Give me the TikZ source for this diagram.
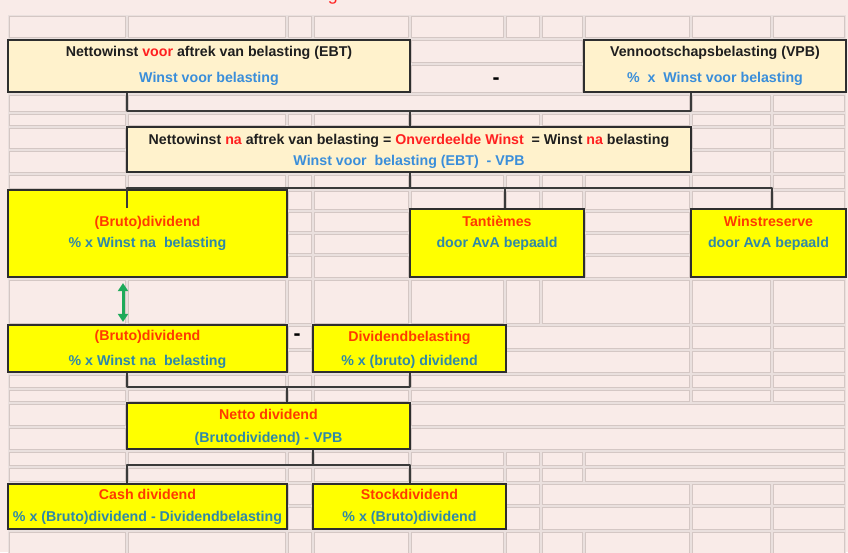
\documentclass[tikz,border=0pt]{standalone}
\usepackage{fontspec}
\setmainfont{Liberation Sans}
\usetikzlibrary{arrows.meta,calc}
\definecolor{bg}{HTML}{F9EBE8}
\definecolor{gapc}{HTML}{EAE0DE}
\definecolor{cellline}{HTML}{D4C7C4}
\definecolor{creamfill}{HTML}{FFF2CC}
\definecolor{yellowfill}{HTML}{FFFF00}
\definecolor{edgec}{HTML}{2E2E2E}
\definecolor{connc}{HTML}{3A3A3A}
\definecolor{txtdark}{HTML}{1F1F1F}
\definecolor{txtblue}{HTML}{3A8EDA}
\definecolor{txtteal}{HTML}{2F88A8}
\definecolor{txtred}{HTML}{FF2020}
\definecolor{txtorange}{HTML}{FF3A00}
\definecolor{arrowgreen}{HTML}{1DAA5A}
\newcommand{\gridrow}[3]{%
  \foreach \cx [remember=\cx as \px (initially 0)] in {#3}{%
    \ifnum\px>0\relax
      \draw[cellst] (\px+1.5,#1+1.5) rectangle (\cx-1.5,#2-1.5);
    \fi}}
\tikzset{
  cellst/.style={draw=cellline, fill=bg, line width=0.9pt},
  creambox/.style={draw=edgec, fill=creamfill, line width=2.2pt, inner sep=0pt},
  yellowbox/.style={draw=edgec, fill=yellowfill, line width=2.2pt, inner sep=0pt},
  conn/.style={draw=connc, line width=2.5pt, line join=round},
  garrow/.style={draw=arrowgreen, line width=3pt, {Triangle[width=10pt,length=8pt]}-{Triangle[width=10pt,length=8pt]}},
  lbl/.style={font=\bfseries\fontsize{14.2}{16}\selectfont, inner sep=0pt, text height=9pt, text depth=0pt},
  minusst/.style={font=\bfseries\fontsize{21}{22}\selectfont, inner sep=0pt, text=black},
}
\begin{document}
\begin{tikzpicture}[x=1pt,y=-1pt]
\useasboundingbox (0,0) rectangle (848,552);
\clip (0,0) rectangle (848,552);
\fill[bg] (0,0) rectangle (848,552);
% title fragment (cut off at the top edge, as in the reference)
\node[anchor=base, inner sep=0pt, text=txtred, font=\fontsize{18}{20}\selectfont] (title) at (333,0) {g};
% spreadsheet grid
\fill[gapc] (8,15) rectangle (846,556);
\gridrow{15}{38.5}{8,127,287,313,410,505,541,584,691,772,846}
\gridrow{38.5}{63.5}{8,127,287,313,410,584,691,772,846}
\gridrow{63.5}{93.5}{8,127,287,313,410,584,691,772,846}
\gridrow{93.5}{112.5}{8,127,691,772,846}
\gridrow{112.5}{126.5}{8,127,287,313,410,541,691,772,846}
\gridrow{126.5}{149.5}{8,127,691,772,846}
\gridrow{149.5}{173.5}{8,127,691,772,846}
\gridrow{173.5}{190}{8,127,287,313,410,505,541,584,691,772,846}
\gridrow{190}{210.5}{8,127,287,313,410,505,541,584,691,772,846}
\gridrow{210.5}{232.5}{8,127,287,313,410,505,541,584,691,772,846}
\gridrow{232.5}{254.5}{8,127,287,313,410,505,541,584,691,772,846}
\gridrow{254.5}{278.5}{8,127,287,313,410,505,541,584,691,772,846}
\gridrow{278.5}{324.5}{8,127,287,313,410,505,541,691,772,846}
\gridrow{324.5}{349.5}{8,287,313,505,691,772,846}
\gridrow{349.5}{374}{8,287,313,505,691,772,846}
\gridrow{374}{388.5}{8,127,287,313,410,691,772,846}
\gridrow{388.5}{403}{8,127,287,313,410,691,772,846}
\gridrow{403}{426.5}{8,127,410,846}
\gridrow{426.5}{450.5}{8,127,410,846}
\gridrow{450.5}{466.5}{8,127,287,313,410,505,541,584,846}
\gridrow{466.5}{482.5}{8,127,287,313,410,505,541,584,846}
\gridrow{482.5}{506}{8,287,313,505,541,691,772,846}
\gridrow{506}{530.5}{8,287,313,505,541,691,772,846}
\gridrow{530.5}{556}{8,127,287,313,410,505,541,584,691,772,846}
% helper coordinates
\coordinate (X123) at (123,0);
\coordinate (X127) at (127,0);
\coordinate (X287) at (287,0);
\coordinate (X313) at (313,0);
\coordinate (X410) at (410,0);
\coordinate (X505) at (505,0);
\coordinate (X691) at (691,0);
\coordinate (X772) at (772,0);
\coordinate (Y111) at (0,111);
\coordinate (Y188) at (0,188);
\coordinate (Y387) at (0,387);
\coordinate (Y465) at (0,465);
\coordinate (d1tick) at (127,208);
% boxes
\node[creambox, minimum width=402pt, minimum height=52pt] (ebt) at (209,66) {};
\node[creambox, minimum width=262pt, minimum height=52pt] (vpb) at (715,66) {};
\node[creambox, minimum width=564pt, minimum height=45pt] (nwna) at (409,149.5) {};
\node[yellowbox, minimum width=279pt, minimum height=87pt] (div1) at (147.5,233.5) {};
\node[yellowbox, minimum width=174pt, minimum height=68pt] (tant) at (497,243) {};
\node[yellowbox, minimum width=155pt, minimum height=68pt] (wres) at (768.5,243) {};
\node[yellowbox, minimum width=279pt, minimum height=47pt] (div2) at (147.5,348.5) {};
\node[yellowbox, minimum width=193pt, minimum height=47pt] (dbel) at (409.5,348.5) {};
\node[yellowbox, minimum width=283pt, minimum height=46pt] (netto) at (268.5,426) {};
\node[yellowbox, minimum width=279pt, minimum height=45pt] (cash) at (147.5,506.5) {};
\node[yellowbox, minimum width=193pt, minimum height=45pt] (stock) at (409.5,506.5) {};
% connectors
\draw[conn] (ebt.south -| X127) -- (X127 |- Y111) -- (X691 |- Y111) -- (vpb.south -| X691);
\draw[conn] (X410 |- Y111) -- (nwna.north -| X410);
\draw[conn] (nwna.south -| X410) -- (X410 |- Y188);
\draw[conn] (d1tick) -- (X127 |- Y188) -- (X772 |- Y188) -- (wres.north -| X772);
\draw[conn] (X505 |- Y188) -- (tant.north -| X505);
\draw[conn] (div2.south -| X127) -- (X127 |- Y387) -- (X410 |- Y387) -- (dbel.south -| X410);
\draw[conn] (X287 |- Y387) -- (netto.north -| X287);
\draw[conn] (netto.south -| X313) -- (X313 |- Y465);
\draw[conn] (cash.north -| X127) -- (X127 |- Y465) -- (X410 |- Y465) -- (stock.north -| X410);
\draw[garrow, shorten <=5pt, shorten >=2pt] (div1.south -| X123) -- (div2.north -| X123);
% minus signs
\node[minusst] (minus1) at (496,81) {-};
\node[minusst] (minus2) at (297,337) {-};
% labels
\node[lbl, text=txtdark] (ebt1) at (209,52) {Nettowinst \textcolor{txtred}{voor} aftrek van belasting (EBT)};
\node[lbl, text=txtblue] (ebt2) at (209,78) {Winst voor belasting};
\node[lbl, text=txtdark] (vpb1) at (715,52) {Vennootschapsbelasting (VPB)};
\node[lbl, text=txtblue] (vpb2) at (715,78) {\%\ \ x\ \ Winst voor belasting};
\node[lbl, text=txtdark] (nwna1) at (409,140) {Nettowinst \textcolor{txtred}{na} aftrek van belasting = \textcolor{txtred}{Onverdeelde Winst}\ \ = Winst \textcolor{txtred}{na} belasting};
\node[lbl, text=txtblue] (nwna2) at (409,161) {Winst voor\ \ belasting (EBT)\ \ - VPB};
\node[lbl, text=txtorange] (div1a) at (147.5,222) {(Bruto)dividend};
\node[lbl, text=txtteal] (div1b) at (147.5,243) {\% x Winst na\ \ belasting};
\node[lbl, text=txtorange] (tant1) at (497,222) {Tantièmes};
\node[lbl, text=txtteal] (tant2) at (497,243) {door AvA bepaald};
\node[lbl, text=txtorange] (wres1) at (768.5,222) {Winstreserve};
\node[lbl, text=txtteal] (wres2) at (768.5,243) {door AvA bepaald};
\node[lbl, text=txtorange] (div2a) at (147.5,336) {(Bruto)dividend};
\node[lbl, text=txtteal] (div2b) at (147.5,361) {\% x Winst na\ \ belasting};
\node[lbl, text=txtorange] (dbel1) at (409.5,337) {Dividendbelasting};
\node[lbl, text=txtteal] (dbel2) at (409.5,361) {\% x (bruto) dividend};
\node[lbl, text=txtorange] (netto1) at (268.5,415) {Netto dividend};
\node[lbl, text=txtteal] (netto2) at (268.5,438) {(Brutodividend) - VPB};
\node[lbl, text=txtorange] (cash1) at (147.5,495) {Cash dividend};
\node[lbl, text=txtteal] (cash2) at (147.5,517) {\% x (Bruto)dividend - Dividendbelasting};
\node[lbl, text=txtorange] (stock1) at (409.5,495) {Stockdividend};
\node[lbl, text=txtteal] (stock2) at (409.5,517) {\% x (Bruto)dividend};
\end{tikzpicture}
\end{document}
